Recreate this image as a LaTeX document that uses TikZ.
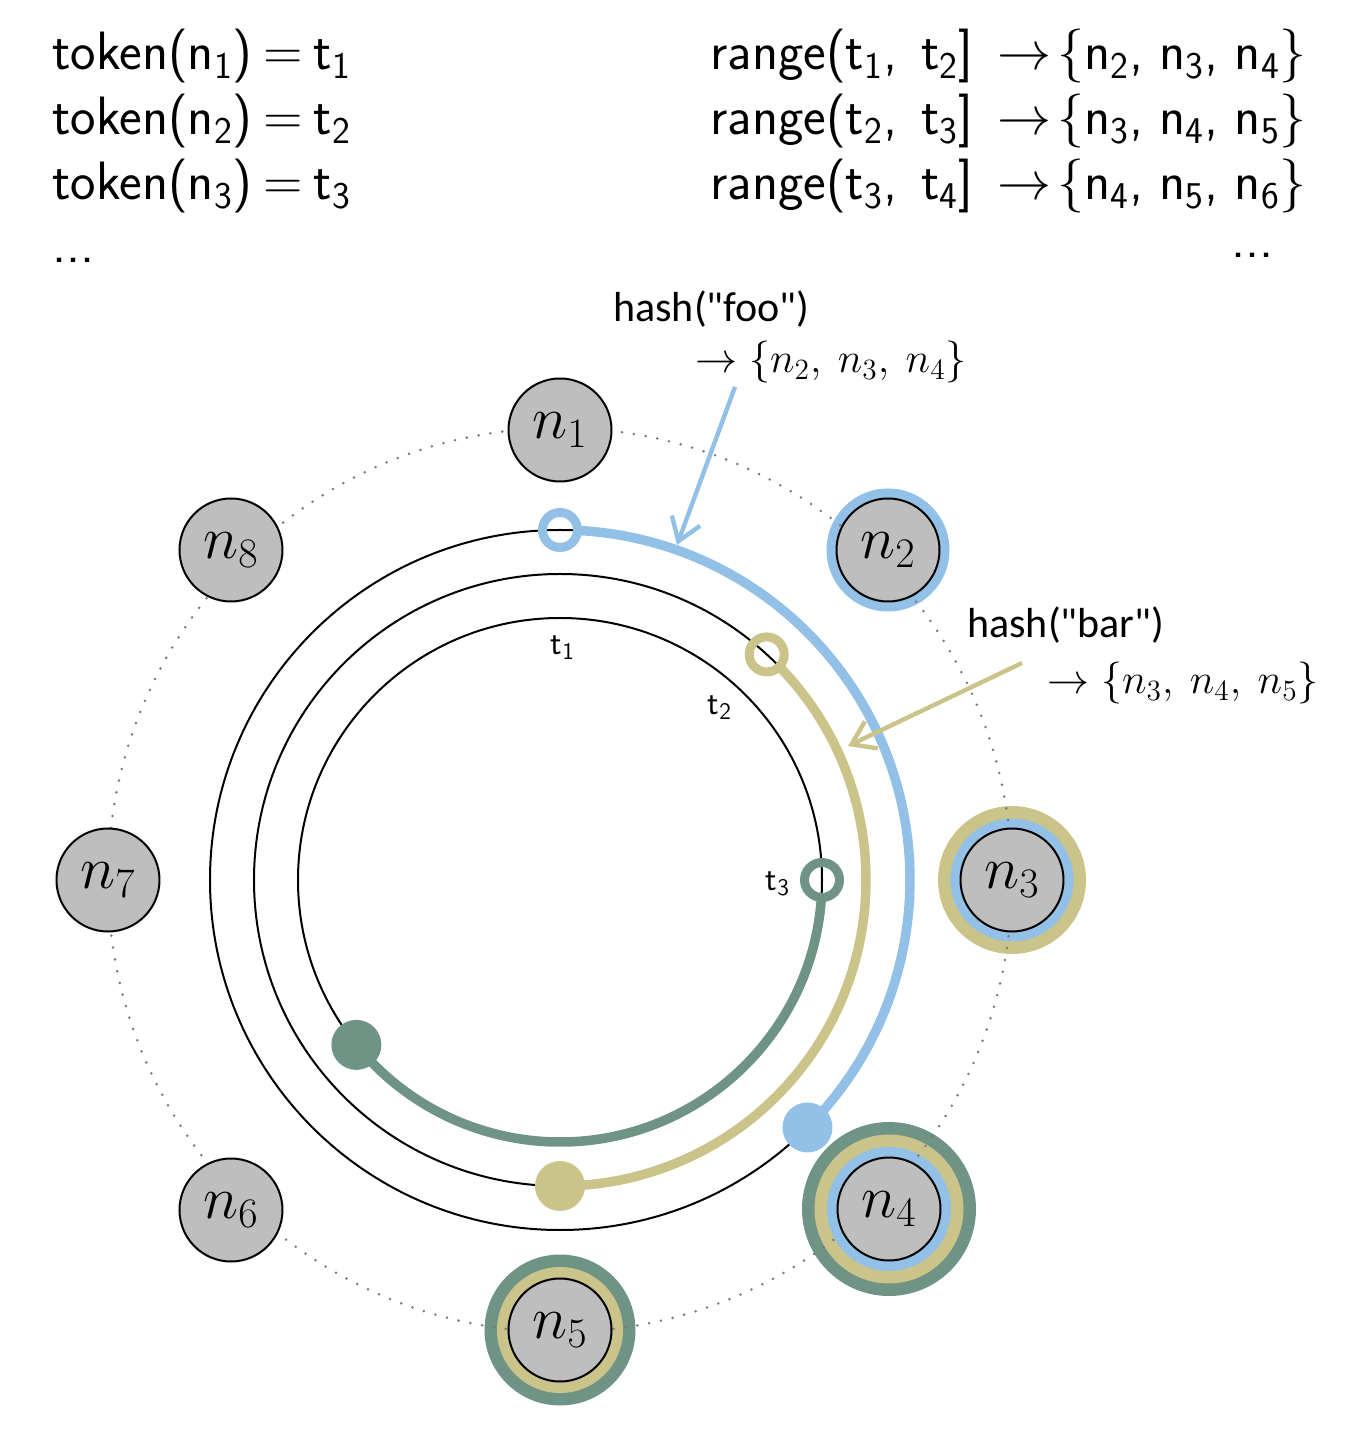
\RequirePackage{fix-cm}
\documentclass[tikz,border=0pt]{standalone}
\usepackage{fontspec}
\newfontfamily\hashfont{Carlito}[Ligatures=TeXOff]
\usetikzlibrary{arrows.meta}
\definecolor{blueC}{RGB}{146,192,230}
\definecolor{oliveC}{RGB}{203,196,138}
\definecolor{greenC}{RGB}{111,147,133}
\definecolor{nodegray}{RGB}{190,190,190}
\definecolor{dotgray}{RGB}{120,120,120}
\newcommand{\sfsub}[2]{\textsf{#1}$_{\mathsf{#2}}$}
\newcommand{\tokline}[1]{token(\sfsub{n}{#1})\hspace{0.2em}=\hspace{0.2em}\sfsub{t}{#1}}
\newcommand{\rngline}[5]{range(\sfsub{t}{#1},\hspace{0.45em}\sfsub{t}{#2}]\hspace{0.45em}$\rightarrow\!\{$\sfsub{n}{#3},\hspace{0.3em}\sfsub{n}{#4},\hspace{0.3em}\sfsub{n}{#5}$\}$}
\begin{document}
\begin{tikzpicture}[x=0.5pt,y=0.5pt,
  ringnode/.style={circle,draw=black,line width=1pt,fill=nodegray,inner sep=0pt,minimum size=51.5pt,font=\fontsize{30}{36}\selectfont},
  blackcirc/.style={draw=black,line width=1pt},
  arcline/.style={line width=4.75pt},
  openmark/.style={line width=4.5pt},
  toptext/.style={font=\fontsize{27}{33}\selectfont\sffamily,inner sep=0pt},
  hashtext/.style={font=\fontsize{21}{26}\selectfont\hashfont,inner sep=0pt},
  tlabel/.style={font=\fontsize{17}{20}\selectfont\sffamily,inner sep=0pt},
  dotcirc/.style={draw=dotgray,line width=1.4pt,line cap=round,dash pattern=on 0pt off 6pt},
  hasharrow/.style={line width=2.2pt,-{Straight Barb[length=11pt,width=15pt,line width=2.2pt]}}
]
\useasboundingbox (-560,-554) rectangle (796,880);

% node positions
\coordinate (p1) at (0,450);
\coordinate (p2) at (328,330);
\coordinate (p3) at (452,0);
\coordinate (p4) at (329,-329);
\coordinate (p5) at (0,-450);
\coordinate (p6) at (-329,-330);
\coordinate (p7) at (-452,0);
\coordinate (p8) at (-329,330);
\coordinate (ctr) at (0,0);

% replica rings
\fill[blueC] (p2) circle[radius=61.5];
\fill[oliveC] (p3) circle[radius=74];
\fill[blueC] (p3) circle[radius=61.5];
\fill[greenC] (p4) circle[radius=87];
\fill[oliveC] (p4) circle[radius=74.5];
\fill[blueC] (p4) circle[radius=62];
\fill[greenC] (p5) circle[radius=75.5];
\fill[oliveC] (p5) circle[radius=63];

% dotted ring
\draw[dotcirc] (ctr) circle[radius=452];

% token circles
\draw[blackcirc] (ctr) circle[radius=350];
\draw[blackcirc] (ctr) circle[radius=306];
\draw[blackcirc] (ctr) circle[radius=262];

% token labels
\node[tlabel] (t1) at (3,232) {\sfsub{t}{1}};
\node[tlabel] (t2) at (160,172) {\sfsub{t}{2}};
\node[tlabel] (t3) at (218,-4) {\sfsub{t}{3}};

% ranges
\draw[blueC,arcline] (87.1:350) arc[start angle=87.1,end angle=-45,radius=350];
\draw[blueC,openmark] (90:350) circle[radius=17.5];
\fill[blueC] (-45:350) circle[radius=25];

\draw[oliveC,arcline] (44.2:306) arc[start angle=44.2,end angle=-90,radius=306];
\draw[oliveC,openmark] (47.5:306) circle[radius=17.5];
\fill[oliveC] (-90:306) circle[radius=25];

\draw[greenC,arcline] (-3.8:262) arc[start angle=-3.8,end angle=-141,radius=262];
\draw[greenC,openmark] (0:262) circle[radius=17.5];
\fill[greenC] (-141:262) circle[radius=25];

% nodes
\node[ringnode] (n1) at (p1) {$n_1$};
\node[ringnode] (n2) at (p2) {$n_2$};
\node[ringnode] (n3) at (p3) {$n_3$};
\node[ringnode] (n4) at (p4) {$n_4$};
\node[ringnode] (n5) at (p5) {$n_5$};
\node[ringnode] (n6) at (p6) {$n_6$};
\node[ringnode] (n7) at (p7) {$n_7$};
\node[ringnode] (n8) at (p8) {$n_8$};

% top text
\node[toptext,anchor=base west] (l1) at (-508,810) {\tokline{1}};
\node[toptext,anchor=base west] (l2) at (-508,745) {\tokline{2}};
\node[toptext,anchor=base west] (l3) at (-508,680) {\tokline{3}};
\node[toptext,anchor=base west] (l4) at (-508,617) {...};
\node[toptext,anchor=base west] (r1) at (150,810) {\rngline{1}{2}{2}{3}{4}};
\node[toptext,anchor=base west] (r2) at (150,745) {\rngline{2}{3}{3}{4}{5}};
\node[toptext,anchor=base west] (r3) at (150,680) {\rngline{3}{4}{4}{5}{6}};
\node[toptext,anchor=base east] (r4) at (714,622) {...};

% hash labels
\node[hashtext,anchor=base west] (foo) at (53,558) {hash("foo")};
\node[hashtext,anchor=base west] (foores) at (135,507) {$\rightarrow\{n_2,\ n_3,\ n_4\}$};
\node[hashtext,anchor=base west] (bar) at (407,242) {hash("bar")};
\node[hashtext,anchor=base west] (barres) at (487,186) {$\rightarrow\{n_3,\ n_4,\ n_5\}$};

\coordinate (foostart) at (175,493);
\coordinate (footip) at (117,335);
\coordinate (barstart) at (462,217);
\coordinate (bartip) at (288,134);
\draw[blueC,hasharrow] (foostart) -- (footip);
\draw[oliveC,hasharrow] (barstart) -- (bartip);
\end{tikzpicture}
\end{document}
